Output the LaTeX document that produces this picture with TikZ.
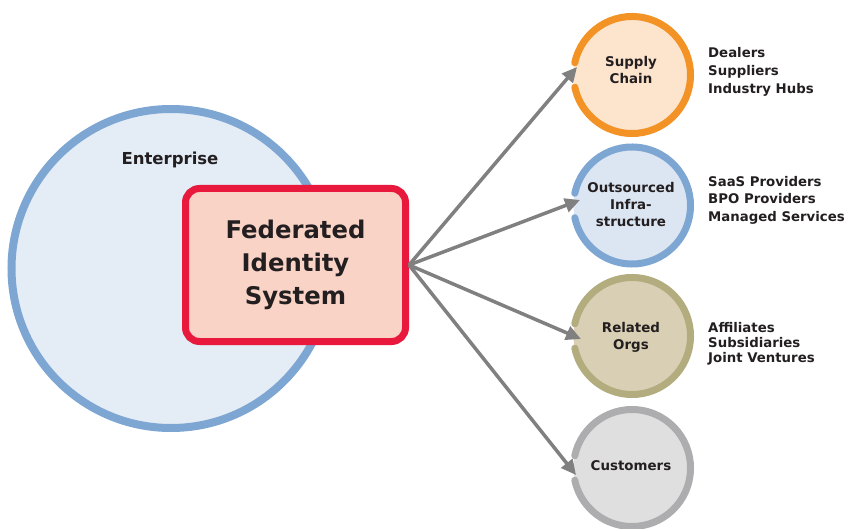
\documentclass[tikz,border=0pt]{standalone}
\usepackage{fontspec}
\setmainfont{DejaVu Sans}
\usetikzlibrary{arrows.meta}
\definecolor{txt}{HTML}{231F20}
\definecolor{entstroke}{HTML}{7EA6D3}
\definecolor{entfill}{HTML}{E4ECF6}
\definecolor{fisstroke}{HTML}{E8193C}
\definecolor{fisfill}{HTML}{F9D3C6}
\definecolor{arrgray}{HTML}{808080}
\definecolor{orS}{HTML}{F39325}
\definecolor{orF}{HTML}{FDE4CC}
\definecolor{blS}{HTML}{7EA6D3}
\definecolor{blF}{HTML}{DCE6F2}
\definecolor{olS}{HTML}{B3AC7E}
\definecolor{olF}{HTML}{D9CFB4}
\definecolor{grS}{HTML}{ADADAF}
\definecolor{grF}{HTML}{DFDFE0}
\tikzset{
  lbl/.style={text=txt, font=\bfseries\fontsize{13.4}{17}\selectfont, align=center},
  side/.style={text=txt, font=\bfseries\fontsize{13.3}{#1}\selectfont, align=left, anchor=north west, inner sep=0pt},
  small/.style={circle, minimum size=117pt, inner sep=0pt, fill=#1},
  ring/.style={draw=#1, line width=7pt, line cap=round},
  arr/.style={draw=arrgray, line width=3.5pt, -{Triangle[length=15pt,width=14pt]}},
}
\begin{document}
\begin{tikzpicture}[x=1pt,y=-1pt]
\useasboundingbox (0,0) rectangle (846,529);
% Enterprise circle
\node[circle, draw=entstroke, fill=entfill, line width=8pt, minimum size=319pt, inner sep=0pt] (ent) at (171,268.5) {};
\node[text=txt, font=\bfseries\fontsize{16.5}{20}\selectfont] (entlbl) at (170,160) {Enterprise};
% Federated Identity System
\node[draw=fisstroke, fill=fisfill, line width=7pt, rounded corners=14pt, minimum width=220pt, minimum height=153pt, text=txt, align=center, font=\bfseries\fontsize{24.3}{33.3}\selectfont] (fis) at (295.5,265) {Federated\\Identity\\System};
% small circles
\node[small=orF] (sc) at (632,75) {};
\node[small=blF] (oi) at (632,205.5) {};
\node[small=olF] (ro) at (632,336) {};
\node[small=grF] (cu) at (632,468) {};
\draw[ring=orS] ([shift={(192:58.5)}]sc.center) arc[start angle=192, end angle=528, radius=58.5];
\draw[ring=blS] ([shift={(192:58.5)}]oi.center) arc[start angle=192, end angle=528, radius=58.5];
\draw[ring=olS] ([shift={(192:58.5)}]ro.center) arc[start angle=192, end angle=528, radius=58.5];
\draw[ring=grS] ([shift={(192:58.5)}]cu.center) arc[start angle=192, end angle=528, radius=58.5];
\node[lbl] (sclbl) at (631,70.5) {Supply\\Chain};
\node[lbl] (oilbl) at (631,205) {Outsourced\\Infra-\\structure};
\node[lbl] (rolbl) at (631,337) {Related\\Orgs};
\node[lbl] (culbl) at (631,466) {Customers};
% arrow tips
\coordinate (tsc) at (577,67);
\coordinate (toi) at (580,200);
\coordinate (tro) at (581,339);
\coordinate (tcu) at (576,475);
\draw[arr] (fis.east) -- (tsc);
\draw[arr] (fis.east) -- (toi);
\draw[arr] (fis.east) -- (tro);
\draw[arr] (fis.east) -- (tcu);
% side lists
\node[side=18] (scs) at (708,47) {Dealers\\Suppliers\\Industry Hubs};
\node[side=17.5] (ois) at (708,176) {SaaS Providers\\BPO Providers\\Managed Services};
\node[side=15] (ros) at (708,322) {Affiliates\\Subsidiaries\\Joint Ventures};
\end{tikzpicture}
\end{document}
